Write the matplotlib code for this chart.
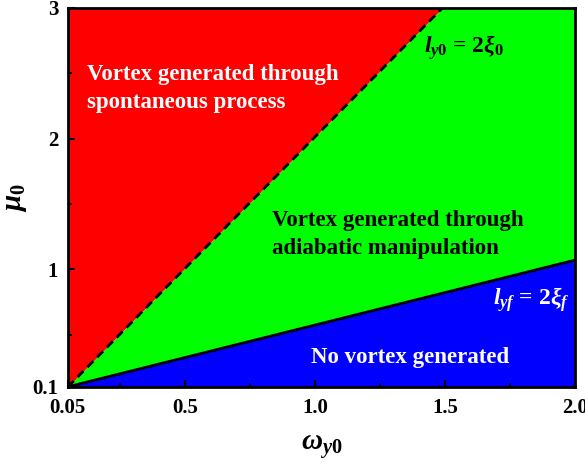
import numpy as np
import matplotlib
matplotlib.use("Agg")
import matplotlib.pyplot as plt
from matplotlib.ticker import FixedLocator

# ==============================
# DATA (boundaries)
# ==============================
x_range = [0.05, 2.0]
y_range = [0.1, 3.0]

# dashed boundary l_y0 = 2 xi_0
upper_x = [0.05, 1.49]
upper_y = [0.1, 3.0]

# solid boundary l_yf = 2 xi_f
lower_x = [0.05, 2.0]
lower_y = [0.1, 1.07]

x_ticks = [0.05, 0.5, 1.0, 1.5, 2.0]
x_ticklabels = ["0.05", "0.5", "1.0", "1.5", "2.0"]
y_ticks = [0.1, 1, 2, 3]
y_ticklabels = ["0.1", "1", "2", "3"]
x_minor = [0.25, 0.75, 1.25, 1.75]
y_minor = [0.5, 1.5, 2.5]

# ==============================
# STYLE
# ==============================
plt.rcParams["font.family"] = ["Liberation Serif", "DejaVu Serif"]
plt.rcParams["font.weight"] = "bold"
plt.rcParams["mathtext.fontset"] = "custom"
plt.rcParams["mathtext.rm"] = "Liberation Serif:bold"
plt.rcParams["mathtext.it"] = "Liberation Serif:italic:bold"
plt.rcParams["mathtext.bf"] = "Liberation Serif:bold"

fig = plt.figure(figsize=(5.85, 4.7), dpi=100)
ax = fig.add_axes([0.116, 0.177, 0.867, 0.806])

# ==============================
# REGIONS
# ==============================
xs = np.linspace(x_range[0], x_range[1], 400)
up = np.interp(xs, upper_x, upper_y, right=np.inf)
up = np.minimum(up, y_range[1])
lo = np.interp(xs, lower_x, lower_y)

ax.fill_between(xs, up, y_range[1], color="#FF0000", lw=0)
ax.fill_between(xs, lo, up, color="#00FF00", lw=0)
ax.fill_between(xs, y_range[0], lo, color="#0000FF", lw=0)

ax.plot(upper_x, upper_y, color="black", lw=2, ls=(0, (3, 2)))
ax.plot(lower_x, lower_y, color="black", lw=2)

# ==============================
# TEXT
# ==============================
fs = 16.5
ax.text(0.123, 2.449, "Vortex generated through", color="white",
        fontsize=fs, fontweight="bold", va="baseline")
ax.text(0.123, 2.235, "spontaneous process", color="white",
        fontsize=fs, fontweight="bold", va="baseline")
ax.text(0.835, 1.332, "Vortex generated through", color="black",
        fontsize=fs, fontweight="bold", va="baseline")
ax.text(0.835, 1.118, "adiabatic manipulation", color="black",
        fontsize=fs, fontweight="bold", va="baseline")
ax.text(0.985, 0.284, "No vortex generated", color="white",
        fontsize=fs, fontweight="bold", va="baseline")
ax.text(1.42, 2.66, r"$l_{y0}$ = 2$\mathit{\xi}_0$", color="black",
        fontsize=17, va="baseline")
ax.text(1.685, 0.727, r"$l_{yf}$ = 2$\mathit{\xi}_f$", color="white",
        fontsize=17, va="baseline")

# ==============================
# AXES
# ==============================
ax.set_xlim(x_range)
ax.set_ylim(y_range)
ax.set_xticks(x_ticks)
ax.set_xticklabels(x_ticklabels)
ax.set_yticks(y_ticks)
ax.set_yticklabels(y_ticklabels)
ax.xaxis.set_minor_locator(FixedLocator(x_minor))
ax.yaxis.set_minor_locator(FixedLocator(y_minor))
ax.tick_params(which="both", direction="in", top=False, right=False,
               width=1.5, labelsize=15)
ax.tick_params(which="major", length=5)
ax.tick_params(which="minor", length=3)
ax.tick_params(axis="x", pad=8)
ax.tick_params(axis="y", pad=7)
for s in ax.spines.values():
    s.set_linewidth(2)

ax.set_xlabel(r"$\omega_{y0}$", fontsize=21, labelpad=10)
ax.set_ylabel(r"$\mu_0$", fontsize=21, labelpad=2)

fig.savefig("out.png", dpi=100)
